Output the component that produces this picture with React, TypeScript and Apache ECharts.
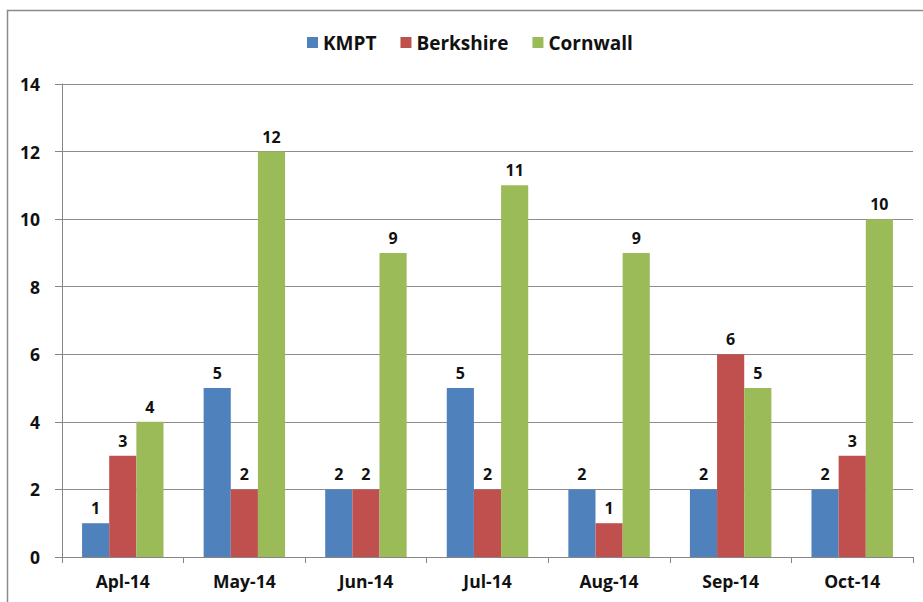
import React, { useEffect, useRef } from "react";
import * as echarts from "echarts";

const categories = ["Apl-14", "May-14", "Jun-14", "Jul-14", "Aug-14", "Sep-14", "Oct-14"];
const kmpt = [1, 5, 2, 5, 2, 2, 2];
const berkshire = [3, 2, 2, 2, 1, 6, 3];
const cornwall = [4, 12, 9, 11, 9, 5, 10];
const seriesNames = ["KMPT", "Berkshire", "Cornwall"];
const seriesColors = ["#4F81BD", "#C0504D", "#9BBB59"];

const FONT = "'Open Sans', 'Noto Sans', sans-serif";

export default function App() {
  const ref = useRef<HTMLDivElement>(null);
  useEffect(() => {
    if (!ref.current) return;
    const chart = echarts.init(ref.current, undefined, { renderer: "svg" });
    const data = [kmpt, berkshire, cornwall];
    chart.setOption({
      animation: false,
      backgroundColor: "#ffffff",
      textStyle: { fontFamily: FONT },
      graphic: [
        {
          type: "rect",
          shape: { x: 7.5, y: 10.5, width: 940, height: 620 },
          style: { fill: "none", stroke: "#8a8a8a", lineWidth: 1.5 },
          silent: true,
        },
      ],
      legend: {
        top: 28,
        left: 302,
        itemWidth: 11,
        itemHeight: 11,
        itemGap: 24,
        icon: "rect",
        textStyle: { fontFamily: FONT, fontWeight: "bold", fontSize: 19, color: "#111" },
        data: seriesNames,
      },
      grid: { left: 62, right: 10, top: 84, bottom: 45, containLabel: false },
      xAxis: {
        type: "category",
        data: categories,
        axisLine: { lineStyle: { color: "#868686", width: 1 } },
        axisTick: { show: true, length: 6, lineStyle: { color: "#868686" } },
        axisLabel: { fontFamily: FONT, fontWeight: "bold", fontSize: 17.5, color: "#111", margin: 15 },
      },
      yAxis: {
        type: "value",
        min: 0,
        max: 14,
        interval: 2,
        axisLine: { show: true, lineStyle: { color: "#868686", width: 1 } },
        axisTick: { show: true, length: 7, lineStyle: { color: "#868686" } },
        splitLine: { lineStyle: { color: "#8c8c8c", width: 1 } },
        axisLabel: { fontFamily: FONT, fontWeight: "bold", fontSize: 17.5, color: "#111", margin: 22 },
      },
      series: seriesNames.map((name, i) => ({
        name,
        type: "bar",
        data: data[i],
        barGap: "0%",
        barCategoryGap: "33%",
        itemStyle: { color: seriesColors[i] },
        label: {
          show: true,
          position: "top",
          distance: 7,
          fontFamily: FONT,
          fontWeight: "bold",
          fontSize: 16,
          color: "#111",
        },
      })),
    });
    return () => chart.dispose();
  }, []);
  return (
    <div
      ref={ref}
      style={{ position: "fixed", left: 0, top: 0, width: 923, height: 602, background: "#fff" }}
    />
  );
}
